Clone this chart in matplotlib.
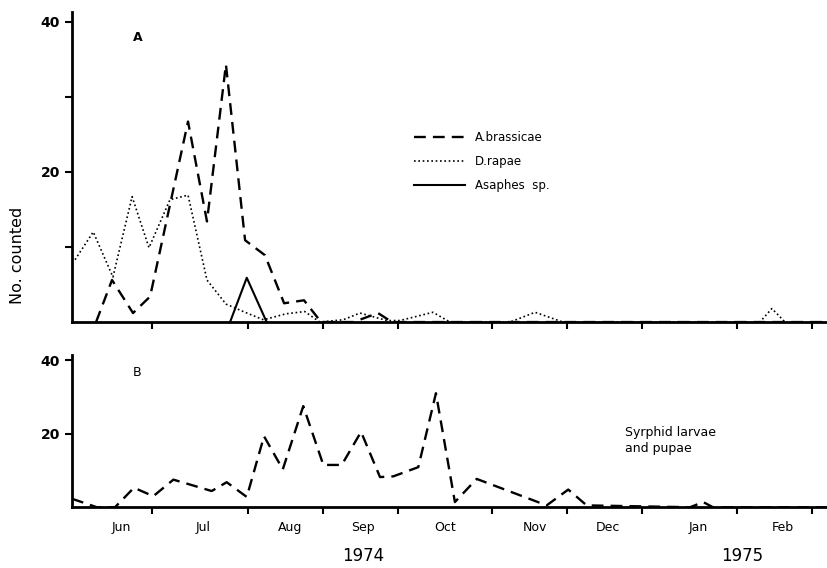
import matplotlib
matplotlib.use("Agg")
import matplotlib.pyplot as plt

# x positions in weeks from the left end of the axis (weekly samples)
brassicae_wk = [1.28, 2.13, 3.25, 4.16, 6.18, 7.19, 8.2, 9.22, 10.28, 11.3, 12.36, 13.27,
                15.0, 16.3, 17.05, 40.3]
brassicae_n = [0, 5.6, 1.2, 3.4, 26.7, 13.4, 34.3, 10.9, 8.9, 2.5, 2.9, 0,
               0, 1.2, 0, 0]

rapae_wk = [0.16, 1.13, 2.18, 3.2, 4.1, 5.22, 6.18, 7.19, 8.2, 9.22, 10.2, 11.4, 12.4, 13.2,
            14.44, 15.34, 16.78, 17.47, 19.23, 20.14, 23.34, 24.67, 26.16, 36.65, 37.29, 37.99]
rapae_n = [8.3, 12.0, 6.0, 16.7, 9.9, 16.3, 16.9, 5.6, 2.4, 1.3, 0.3, 1.1, 1.4, 0,
           0.3, 1.2, 0.2, 0.2, 1.3, 0, 0, 1.3, 0, 0, 1.8, 0]

asaphes_wk = [8.42, 9.31, 10.37]
asaphes_n = [0, 5.9, 0]

syrphid_wk = [0.0, 1.32, 2.29, 3.3, 4.33, 5.4, 6.46, 7.44, 8.24, 9.31, 10.23, 11.23, 12.32,
              13.39, 14.37, 15.4, 16.41, 17.12, 18.45, 19.39, 20.4, 21.56, 25.29, 26.44,
              27.42, 32.93, 33.63, 34.15, 40.3]
syrphid_n = [2.3, 0, 0, 5.3, 3.0, 7.5, 5.9, 4.4, 6.8, 2.8, 19.3, 10.3, 27.5,
             11.5, 11.5, 20.5, 8.2, 8.4, 10.9, 31.0, 1.4, 7.7, 0.5, 4.8,
             0.5, 0, 1.4, 0, 0]

month_edges = [4.26, 9.35, 13.35, 17.37, 22.4, 26.37, 30.37, 35.43, 39.42]
month_mid = [2.65, 6.98, 11.6, 15.5, 19.87, 24.67, 28.56, 33.35, 37.88]
months = ["Jun", "Jul", "Aug", "Sep", "Oct", "Nov", "Dec", "Jan", "Feb"]

dash = (0, (5, 3))
dots = (0, (1, 1.6))

fig = plt.figure(figsize=(8.28, 5.68), dpi=100)
axA = fig.add_axes([0.087, 0.433, 0.913, 0.546])
axB = fig.add_axes([0.087, 0.107, 0.913, 0.268])

axA.plot(brassicae_wk, brassicae_n, color="black", lw=1.7, ls=dash, label="A.brassicae")
axA.plot(rapae_wk, rapae_n, color="black", lw=1.2, ls=dots, label="D.rapae")
axA.plot(asaphes_wk, asaphes_n, color="black", lw=1.5, ls="-", label="Asaphes  sp.")
axB.plot(syrphid_wk, syrphid_n, color="black", lw=1.7, ls=dash)

axA.set_ylim(0, 41.3)
axB.set_ylim(0, 41.4)
axA.set_yticks([10, 20, 30, 40])
axA.set_yticklabels(["", "20", "", "40"])
axB.set_yticks([20, 40])
axB.set_yticklabels(["20", "40"])

for ax in (axA, axB):
    ax.set_xlim(0, 40.28)
    for s in ("top", "right"):
        ax.spines[s].set_visible(False)
    for s in ("left", "bottom"):
        ax.spines[s].set_linewidth(2.0)
    ax.set_xticks(month_edges)
    ax.set_xticklabels([])
    ax.tick_params(which="major", direction="out", length=5, width=1.5, labelsize=10)
    for t in ax.get_yticklabels():
        t.set_fontweight("bold")

axB.set_xticks(month_mid, minor=True)
axB.set_xticklabels(months, minor=True, fontsize=9)
axB.tick_params(axis="x", which="minor", length=0, pad=10)

axA.text(0.08, 0.905, "A", transform=axA.transAxes, fontsize=9, fontweight="bold")
axB.text(0.08, 0.86, "B", transform=axB.transAxes, fontsize=9)
axA.legend(loc="upper left", bbox_to_anchor=(0.445, 0.635), frameon=False,
           handlelength=4.3, fontsize=8.5, labelspacing=0.95, handletextpad=0.8,
           borderpad=0)
axB.text(0.731, 0.36, "Syrphid larvae\nand pupae", transform=axB.transAxes,
         fontsize=9, linespacing=1.3)

fig.text(18 / 828, 1 - 255 / 568, "No. counted", rotation=90, ha="center",
         va="center", fontsize=11.5)
fig.text(363 / 828, 1 - 556 / 568, "1974", ha="center", va="center", fontsize=12)
fig.text(742 / 828, 1 - 556 / 568, "1975", ha="center", va="center", fontsize=12)

fig.savefig("out.png", dpi=100)
